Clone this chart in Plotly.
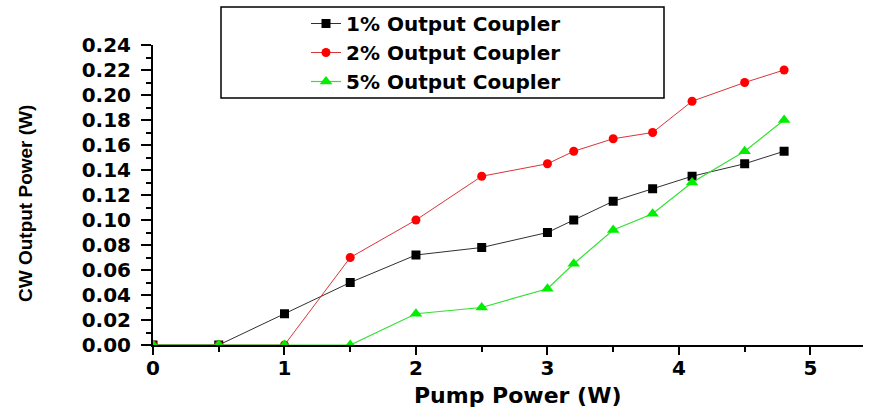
import plotly.graph_objects as go

# Pump power (W) and CW output power (W) for each output coupler
pump_1 = [0, 0.5, 1, 1.5, 2, 2.5, 3, 3.2, 3.5, 3.8, 4.1, 4.5, 4.8]
out_1 = [0, 0, 0.025, 0.050, 0.072, 0.078, 0.090, 0.100, 0.115, 0.125, 0.135, 0.145, 0.155]

pump_2 = [0, 0.5, 1, 1.5, 2, 2.5, 3, 3.2, 3.5, 3.8, 4.1, 4.5, 4.8]
out_2 = [0, 0, 0, 0.070, 0.100, 0.135, 0.145, 0.155, 0.165, 0.170, 0.195, 0.210, 0.220]

pump_5 = [0, 0.5, 1, 1.5, 2, 2.5, 3, 3.2, 3.5, 3.8, 4.1, 4.5, 4.8]
out_5 = [0, 0, 0, 0, 0.025, 0.030, 0.045, 0.065, 0.092, 0.105, 0.130, 0.155, 0.180]

names = ["1% Output Coupler", "2% Output Coupler", "5% Output Coupler"]
x_ticks = [0, 1, 2, 3, 4, 5]
y_ticks = [0.00, 0.02, 0.04, 0.06, 0.08, 0.10, 0.12, 0.14, 0.16, 0.18, 0.20, 0.22, 0.24]
x_title = "Pump Power (W)"
y_title = "CW Output Power (W)"

W, H = 871, 410
L, R, T, B = 153, 8, 45, 65
plot_w = W - L - R
plot_h = H - T - B


def px_x(p):
    return (p - L) / plot_w


def px_y(p):
    return (H - B - p) / plot_h


fig = go.Figure()
fig.add_trace(go.Scatter(
    x=pump_1, y=out_1, name=names[0], mode="lines+markers",
    line=dict(color="#303030", width=1),
    marker=dict(symbol="square", size=9, color="black"),
))
fig.add_trace(go.Scatter(
    x=pump_2, y=out_2, name=names[1], mode="lines+markers",
    line=dict(color="#d8353a", width=1),
    marker=dict(symbol="circle", size=9, color="#ff0000"),
))
fig.add_trace(go.Scatter(
    x=pump_5, y=out_5, name=names[2], mode="lines+markers",
    line=dict(color="#33e033", width=1.2),
    marker=dict(symbol="triangle-up", size=11, color="#00ee00"),
))

tick_font = dict(family="DejaVu Sans", size=20, color="black", weight="bold")

fig.update_layout(
    width=W, height=H,
    margin=dict(l=L, r=R, t=T, b=B, autoexpand=False),
    paper_bgcolor="white", plot_bgcolor="white",
    showlegend=True,
    legend=dict(
        x=px_x(306), y=px_y(4), xanchor="left", yanchor="top",
        bgcolor="rgba(0,0,0,0)", borderwidth=0,
        font=dict(family="DejaVu Sans", size=20, color="black", weight="bold"),
        itemwidth=30, tracegroupgap=0,
    ),
    xaxis=dict(
        range=[0, 5.4], showline=True, linecolor="black", linewidth=2,
        showgrid=False, zeroline=False,
        tickmode="array", tickvals=x_ticks, ticktext=[str(v) for v in x_ticks],
        ticks="outside", ticklen=8, tickwidth=1.5, tickcolor="black",
        minor=dict(dtick=0.5, ticks="outside", ticklen=5, tickwidth=1.5, tickcolor="black"),
        tickfont=tick_font, ticklabelstandoff=-4,
    ),
    yaxis=dict(
        range=[0, 0.24], showline=True, linecolor="black", linewidth=2,
        showgrid=False, zeroline=False,
        tickmode="array", tickvals=y_ticks, ticktext=[f"{v:.2f}" for v in y_ticks],
        ticks="outside", ticklen=10, tickwidth=1.5, tickcolor="black",
        minor=dict(dtick=0.01, ticks="outside", ticklen=5, tickwidth=1.5, tickcolor="black"),
        tickfont=tick_font, ticklabelstandoff=6,
    ),
    annotations=[
        dict(text=x_title, xref="paper", yref="paper",
             x=px_x(518), y=px_y(410), xanchor="center", yanchor="bottom",
             showarrow=False,
             font=dict(family="DejaVu Sans", size=22, color="black", weight="bold")),
        dict(text=y_title, xref="paper", yref="paper",
             x=px_x(25), y=px_y(204), xanchor="center", yanchor="middle",
             textangle=-90, showarrow=False,
             font=dict(family="Liberation Sans", size=19, color="black", weight="bold")),
    ],
    shapes=[dict(
        type="rect", xref="paper", yref="paper",
        x0=px_x(221), x1=px_x(664), y0=px_y(98), y1=px_y(7),
        line=dict(color="black", width=1.5), fillcolor="rgba(0,0,0,0)",
    )],
)

fig.write_html("out.html")
